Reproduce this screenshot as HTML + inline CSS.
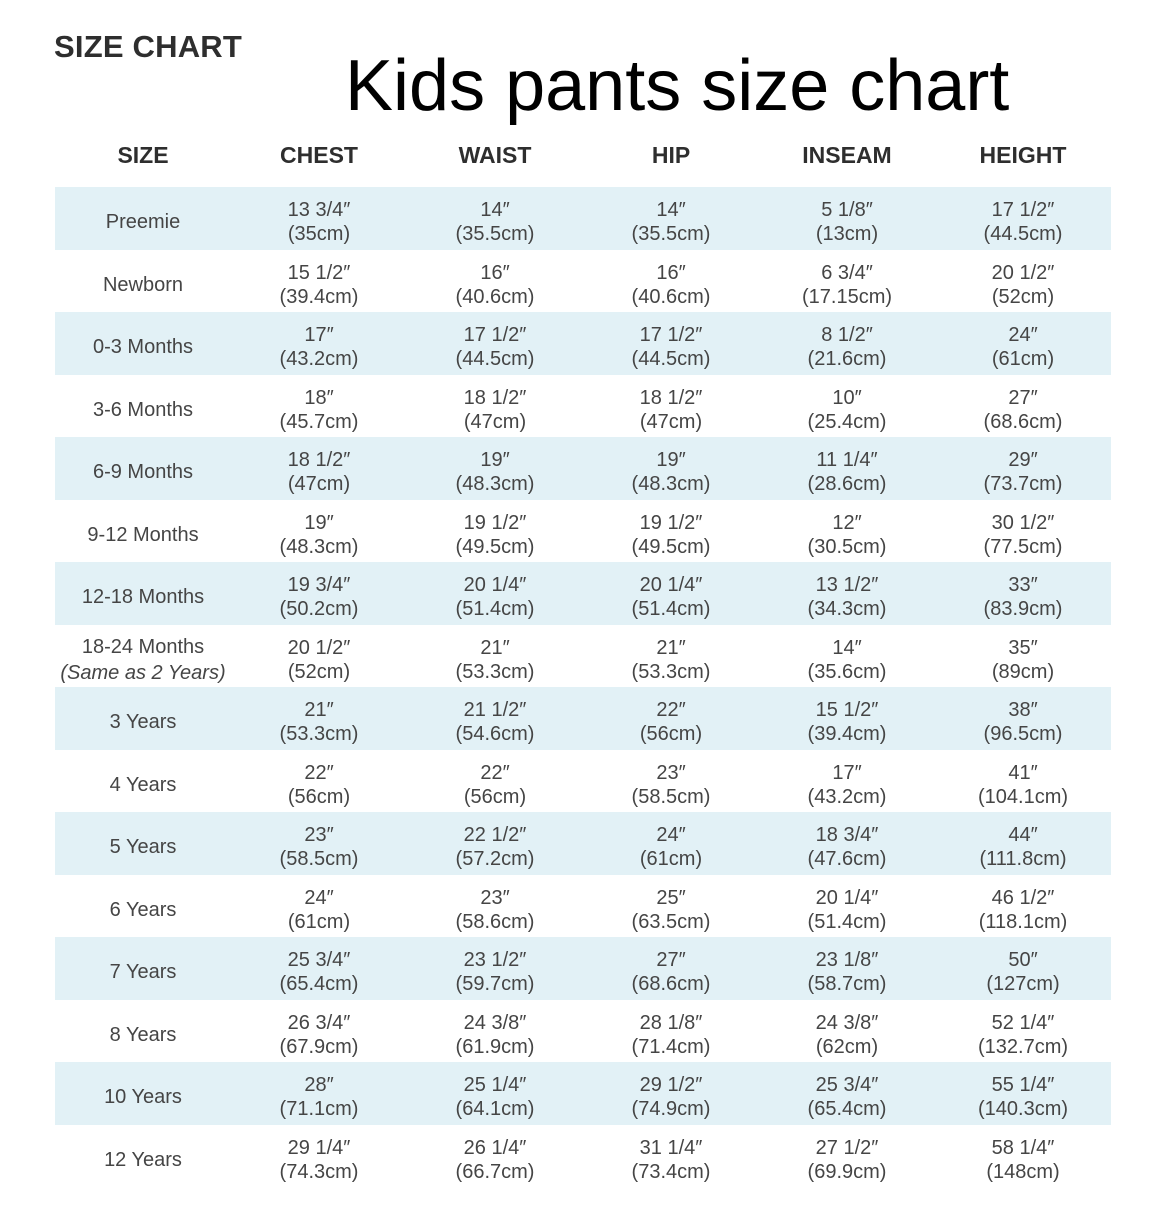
<!DOCTYPE html>
<html>
<head>
<meta charset="utf-8">
<style>
html,body{margin:0;padding:0;background:#fff;}
body{width:1170px;height:1227px;position:relative;overflow:hidden;font-family:"Liberation Sans",Arial,sans-serif;}
.sc{position:absolute;left:54px;top:27px;font-size:31px;font-weight:bold;color:#2e2e2e;line-height:40px;letter-spacing:0.2px;}
.title{position:absolute;left:345px;top:46px;font-size:72px;color:#000;line-height:80px;white-space:nowrap;}
.hdr{position:absolute;left:55px;top:140px;width:1056px;display:flex;font-weight:bold;font-size:23px;color:#2e2e2e;line-height:30px;}
.hdr div{width:176px;text-align:center;}
.row{position:absolute;left:55px;width:1056px;height:62.5px;display:flex;}
.b{background:#e2f1f6;}
.c{width:176px;text-align:center;color:#454545;font-size:20px;line-height:24px;}
.v{padding-top:11px;}
.s{padding-top:23px;}
.s2{padding-top:9px;line-height:26px;}
i{font-style:italic;}
</style>
</head>
<body>
<div class="sc">SIZE CHART</div>
<div class="title">Kids pants size chart</div>
<div class="hdr"><div>SIZE</div><div>CHEST</div><div>WAIST</div><div>HIP</div><div>INSEAM</div><div>HEIGHT</div></div>

<div class="row b" style="top:187px"><div class="c s">Preemie</div><div class="c v">13 3/4″<br>(35cm)</div><div class="c v">14″<br>(35.5cm)</div><div class="c v">14″<br>(35.5cm)</div><div class="c v">5 1/8″<br>(13cm)</div><div class="c v">17 1/2″<br>(44.5cm)</div></div>
<div class="row" style="top:249.5px"><div class="c s">Newborn</div><div class="c v">15 1/2″<br>(39.4cm)</div><div class="c v">16″<br>(40.6cm)</div><div class="c v">16″<br>(40.6cm)</div><div class="c v">6 3/4″<br>(17.15cm)</div><div class="c v">20 1/2″<br>(52cm)</div></div>
<div class="row b" style="top:312px"><div class="c s">0-3 Months</div><div class="c v">17″<br>(43.2cm)</div><div class="c v">17 1/2″<br>(44.5cm)</div><div class="c v">17 1/2″<br>(44.5cm)</div><div class="c v">8 1/2″<br>(21.6cm)</div><div class="c v">24″<br>(61cm)</div></div>
<div class="row" style="top:374.5px"><div class="c s">3-6 Months</div><div class="c v">18″<br>(45.7cm)</div><div class="c v">18 1/2″<br>(47cm)</div><div class="c v">18 1/2″<br>(47cm)</div><div class="c v">10″<br>(25.4cm)</div><div class="c v">27″<br>(68.6cm)</div></div>
<div class="row b" style="top:437px"><div class="c s">6-9 Months</div><div class="c v">18 1/2″<br>(47cm)</div><div class="c v">19″<br>(48.3cm)</div><div class="c v">19″<br>(48.3cm)</div><div class="c v">11 1/4″<br>(28.6cm)</div><div class="c v">29″<br>(73.7cm)</div></div>
<div class="row" style="top:499.5px"><div class="c s">9-12 Months</div><div class="c v">19″<br>(48.3cm)</div><div class="c v">19 1/2″<br>(49.5cm)</div><div class="c v">19 1/2″<br>(49.5cm)</div><div class="c v">12″<br>(30.5cm)</div><div class="c v">30 1/2″<br>(77.5cm)</div></div>
<div class="row b" style="top:562px"><div class="c s">12-18 Months</div><div class="c v">19 3/4″<br>(50.2cm)</div><div class="c v">20 1/4″<br>(51.4cm)</div><div class="c v">20 1/4″<br>(51.4cm)</div><div class="c v">13 1/2″<br>(34.3cm)</div><div class="c v">33″<br>(83.9cm)</div></div>
<div class="row" style="top:624.5px"><div class="c s2">18-24 Months<br><i>(Same as 2 Years)</i></div><div class="c v">20 1/2″<br>(52cm)</div><div class="c v">21″<br>(53.3cm)</div><div class="c v">21″<br>(53.3cm)</div><div class="c v">14″<br>(35.6cm)</div><div class="c v">35″<br>(89cm)</div></div>
<div class="row b" style="top:687px"><div class="c s">3 Years</div><div class="c v">21″<br>(53.3cm)</div><div class="c v">21 1/2″<br>(54.6cm)</div><div class="c v">22″<br>(56cm)</div><div class="c v">15 1/2″<br>(39.4cm)</div><div class="c v">38″<br>(96.5cm)</div></div>
<div class="row" style="top:749.5px"><div class="c s">4 Years</div><div class="c v">22″<br>(56cm)</div><div class="c v">22″<br>(56cm)</div><div class="c v">23″<br>(58.5cm)</div><div class="c v">17″<br>(43.2cm)</div><div class="c v">41″<br>(104.1cm)</div></div>
<div class="row b" style="top:812px"><div class="c s">5 Years</div><div class="c v">23″<br>(58.5cm)</div><div class="c v">22 1/2″<br>(57.2cm)</div><div class="c v">24″<br>(61cm)</div><div class="c v">18 3/4″<br>(47.6cm)</div><div class="c v">44″<br>(111.8cm)</div></div>
<div class="row" style="top:874.5px"><div class="c s">6 Years</div><div class="c v">24″<br>(61cm)</div><div class="c v">23″<br>(58.6cm)</div><div class="c v">25″<br>(63.5cm)</div><div class="c v">20 1/4″<br>(51.4cm)</div><div class="c v">46 1/2″<br>(118.1cm)</div></div>
<div class="row b" style="top:937px"><div class="c s">7 Years</div><div class="c v">25 3/4″<br>(65.4cm)</div><div class="c v">23 1/2″<br>(59.7cm)</div><div class="c v">27″<br>(68.6cm)</div><div class="c v">23 1/8″<br>(58.7cm)</div><div class="c v">50″<br>(127cm)</div></div>
<div class="row" style="top:999.5px"><div class="c s">8 Years</div><div class="c v">26 3/4″<br>(67.9cm)</div><div class="c v">24 3/8″<br>(61.9cm)</div><div class="c v">28 1/8″<br>(71.4cm)</div><div class="c v">24 3/8″<br>(62cm)</div><div class="c v">52 1/4″<br>(132.7cm)</div></div>
<div class="row b" style="top:1062px"><div class="c s">10 Years</div><div class="c v">28″<br>(71.1cm)</div><div class="c v">25 1/4″<br>(64.1cm)</div><div class="c v">29 1/2″<br>(74.9cm)</div><div class="c v">25 3/4″<br>(65.4cm)</div><div class="c v">55 1/4″<br>(140.3cm)</div></div>
<div class="row" style="top:1124.5px"><div class="c s">12 Years</div><div class="c v">29 1/4″<br>(74.3cm)</div><div class="c v">26 1/4″<br>(66.7cm)</div><div class="c v">31 1/4″<br>(73.4cm)</div><div class="c v">27 1/2″<br>(69.9cm)</div><div class="c v">58 1/4″<br>(148cm)</div></div>
</body>
</html>
